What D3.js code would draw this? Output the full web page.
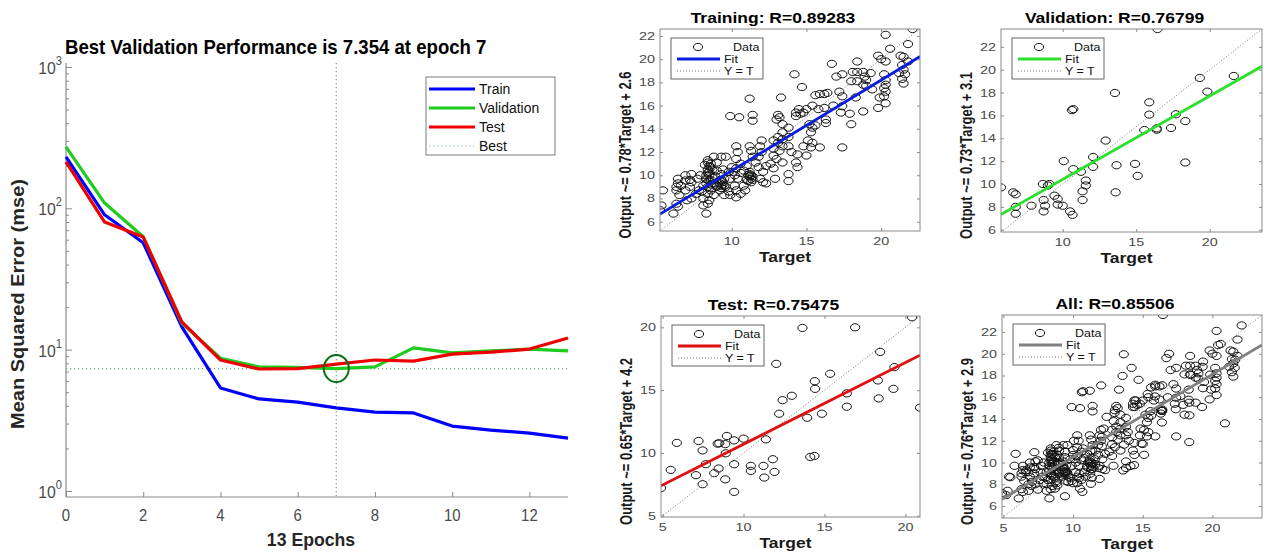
<!DOCTYPE html>
<html>
<head>
<meta charset="utf-8">
<script src="https://cdn.jsdelivr.net/npm/d3@7"></script>
<style>
  html, body { margin: 0; padding: 0; background: #ffffff; }
  svg { display: block; font-family: "Liberation Sans", Arial, Helvetica, sans-serif; }
</style>
</head>
<body>
<svg id="fig" width="1272" height="554"></svg>
<script>
// ---------- Training performance (mean squared error per epoch) ----------
const epochs = d3.range(0, 14);
const trainMSE      = [231, 90, 57, 14.5, 5.36, 4.48, 4.26, 3.87, 3.62, 3.57, 2.88, 2.70, 2.57, 2.37];
const validationMSE = [272, 109, 63, 15.4, 8.7, 7.55, 7.5, 7.354, 7.55, 10.3, 9.5, 9.8, 10.1, 9.8];
const testMSE       = [213, 80, 62.6, 15.7, 8.45, 7.3, 7.35, 7.9, 8.45, 8.3, 9.3, 9.6, 10.1, 12.1];
const bestEpoch = 7;
const bestMSE = 7.354;
const epochTicks = [0, 2, 4, 6, 8, 10, 12];
const mseDecades = [0, 1, 2, 3];
const perfSeries = ["Train", "Validation", "Test", "Best"];

// ---------- Regression: targets vs network outputs ----------
const trainTarget = [22.1,20.3,20.6,21.8,19.8,20.0,20.3,21.3,21.8,21.4,21.5,21.2,21.6,21.4,21.5,20.2,20.3,20.3,20.2,20.3,
  20.3,19.9,19.8,19.4,18.9,19.3,18.8,18.4,18.1,18.4,19.0,18.4,18.0,18.8,19.0,18.3,18.8,18.0,17.4,16.7,
  17.0,17.4,17.2,17.4,16.8,17.3,17.9,17.4,16.2,15.9,16.2,16.3,16.3,15.8,15.4,15.0,14.5,14.2,14.7,14.3,
  14.3,14.8,15.2,15.3,15.4,15.6,15.1,15.4,15.9,15.3,14.8,15.0,14.4,14.0,14.3,14.4,13.8,13.8,13.3,13.1,
  13.0,13.2,13.4,13.8,13.4,13.1,13.4,13.8,12.8,13.1,13.4,13.8,12.8,13.2,12.8,13.0,13.4,12.8,12.9,12.3,
  12.1,12.1,12.3,11.9,12.0,11.9,12.0,11.8,11.6,11.8,11.2,11.4,11.4,9.9,10.5,10.3,10.4,11.2,11.3,11.4,
  10.3,10.6,11.0,11.2,11.2,11.3,11.0,10.8,10.3,10.0,9.8,10.1,9.9,10.4,10.2,10.8,10.9,10.6,10.3,10.3,
  9.8,9.5,9.3,9.4,9.2,9.5,9.3,9.4,9.0,8.6,8.5,8.4,8.3,8.5,8.3,8.8,9.0,8.6,8.4,8.8,
  8.5,8.4,8.3,9.0,8.1,8.0,8.1,7.9,7.7,7.3,7.3,7.2,6.9,6.9,6.4,6.4,6.3,6.5,6.3,7.0,
  6.4,6.1,5.4,5.3,5.2,8.5,9.0,8.8,9.3,8.2,8.4,8.9,9.2,9.6,9.9,8.1,7.8,6.9,7.6,8.4,
  8.6,8.5,8.7,8.4,8.6,11.2,11.3,11.1,9.4,9.3,11.4,7.3,6.3,12.6,14.6,15.6,16.4,21.5,20.2,9.6,
  8.4,8.6,8.5,8.7,8.3,9.2,9.5,9.3,11.3,11.1,11.4,10.2,10.6,7.2,6.6];
const trainOutput = [22.6,22.1,20.9,21.3,20.3,20.0,19.8,20.3,19.8,19.5,19.1,18.8,18.7,18.3,17.9,18.7,18.2,17.8,17.5,17.2,
  16.2,16.7,15.8,17.4,18.5,18.8,18.9,19.8,18.9,18.9,18.2,18.1,18.1,17.8,17.7,16.7,15.5,14.4,12.4,19.6,
  18.5,18.7,17.2,16.8,16.0,15.4,15.3,15.95,17.0,17.0,15.8,14.8,14.5,15.7,16.0,15.7,15.7,18.7,17.6,15.4,
  15.1,15.4,14.4,13.7,14.1,14.3,13.0,12.8,12.4,12.4,12.5,11.7,11.8,12.0,11.1,10.7,10.1,9.5,16.7,15.2,
  14.8,15.0,14.4,14.1,13.7,13.3,13.1,13.3,13.0,12.8,12.5,12.5,12.3,12.1,11.7,11.4,11.1,10.6,9.7,10.8,
  10.3,9.4,9.3,9.7,13.0,12.5,12.0,11.6,11.1,10.7,16.6,15.2,14.7,15.1,15.0,12.5,12.0,12.5,12.1,11.6,
  11.4,11.0,10.8,10.3,9.9,9.4,9.6,10.4,10.6,10.7,10.3,10.3,9.7,9.7,9.1,9.1,8.7,8.4,8.1,8.7,
  8.6,8.3,9.1,9.4,9.55,9.7,10.1,10.5,10.4,10.7,10.3,11.1,10.0,9.55,9.3,9.3,9.0,8.7,8.4,8.3,
  7.85,7.55,6.7,9.1,9.1,8.6,8.0,10.0,9.7,10.1,9.4,9.0,9.55,8.7,9.7,9.3,8.7,8.3,7.55,7.85,
  7.3,6.7,8.7,7.4,7.0,10.8,11.1,11.6,11.6,10.9,10.5,9.9,8.7,9.0,8.3,7.4,8.7,10.0,8.4,11.3,
  11.0,10.0,9.8,9.0,9.2,10.1,9.7,10.0,9.2,8.9,9.6,8.0,9.0,11.0,15.3,16.9,17.1,20.2,16.8,11.6,
  10.2,9.6,8.9,10.5,9.7,9.3,9.1,9.6,10.0,9.5,9.9,10.0,10.2,9.6,9.1];

const valTarget = [16.45,5.8,6.63,6.8,6.8,6.8,7.87,8.65,8.99,9.1,8.7,8.8,8.7,9.44,9.66,9.66,10.0,10.5,10.67,10.07,
  10.63,10.72,10.72,11.24,11.57,11.57,11.35,11.35,12.07,12.07,12.92,13.55,13.66,13.6,14.92,15.1,15.55,15.89,15.89,16.4,
  16.4,17.37,17.7,18.34,18.34,19.33,19.84,21.64];
const valOutput = [23.56,9.7,9.27,9.1,8.0,7.4,8.1,10.0,9.87,10.0,8.6,8.1,7.6,8.98,8.7,8.2,8.1,7.6,7.3,12.0,
  16.46,16.55,11.3,11.07,10.3,9.87,9.36,8.6,12.36,11.5,13.8,17.96,11.64,9.27,11.76,10.71,14.72,17.15,16.07,14.87,
  14.75,14.9,16.1,15.5,11.88,19.28,18.08,19.45];

const testTarget = [4.9,5.5,5.88,7.06,7.22,7.47,7.47,7.67,8.19,8.4,8.5,8.46,8.87,8.9,8.97,8.87,9.42,9.42,9.42,10.0,
  10.45,10.45,11.23,11.28,11.38,11.81,11.91,12.02,12.2,12.41,12.98,13.64,13.93,14.12,14.38,14.4,14.42,14.84,15.35,16.38,
  16.38,16.89,18.44,18.3,18.35,19.32,19.26,20.41,20.9];
const testOutput = [7.2,8.65,10.8,8.23,10.95,10.2,7.51,9.1,8.39,10.74,10.77,8.76,10.7,9.97,11.35,7.9,11.0,9.1,6.9,11.14,
  8.97,8.57,8.97,8.04,11.08,9.5,8.49,17.09,13.12,14.2,14.55,19.95,12.8,9.68,9.76,15.71,15.1,13.12,16.3,13.68,
  14.74,20.0,18.04,15.77,14.34,16.83,15.1,20.8,13.6];

const regressionNames = ["Training", "Validation", "Test", "All"];
const regressionR = ["0.89283", "0.76799", "0.75475", "0.85506"];
const fitSlope = [0.78, 0.73, 0.65, 0.76];
const fitIntercept = [2.6, 3.1, 4.2, 2.9];
const targetTicks = [[10, 15, 20], [10, 15, 20], [5, 10, 15, 20], [5, 10, 15, 20]];
const outputTicks = [[6, 8, 10, 12, 14, 16, 18, 20, 22], [6, 8, 10, 12, 14, 16, 18, 20, 22],
                     [5, 10, 15, 20], [6, 8, 10, 12, 14, 16, 18, 20, 22]];
const legendLabels = ["Data", "Fit", "Y = T"];

// ---------- styling ----------
const perfColors = ["#0000ff", "#1ecb1e", "#ee0000"];
const fitColors = ["#0a1ee0", "#2ee02e", "#e01010", "#808080"];
const axisGrey = "#8a8a8a";
const tickText = "#4a4a4a";

const svg = d3.select("#fig");

// text helper: glyphs are widened/narrowed by sx along the screen x axis
function label(g, x, y, str, o) {
  const tf = `translate(${x},${y}) scale(${o.sx || 1},1)` + (o.rotate ? ` rotate(${o.rotate})` : "");
  return g.append("text")
    .attr("transform", tf)
    .attr("text-anchor", o.anchor || "middle")
    .attr("dy", o.dy || 0)
    .attr("fill", o.color || "#000")
    .style("font-size", o.size + "px")
    .style("font-weight", o.bold ? "bold" : "normal")
    .text(str);
}

// =================== performance plot ===================
(function drawPerformance() {
  const sx = 0.93;
  const L = 66, R = 568, T = 63, B = 497;
  const x = d3.scaleLinear().domain([0, 13]).range([L, R]);
  const y = d3.scaleLog().domain([0.907, 1067]).range([B, T]);
  const g = svg.append("g");

  // axis lines (box off)
  g.append("line").attr("x1", L).attr("x2", L).attr("y1", T).attr("y2", B).attr("stroke", axisGrey).attr("stroke-width", 1.2);
  g.append("line").attr("x1", L).attr("x2", R).attr("y1", B).attr("y2", B).attr("stroke", axisGrey).attr("stroke-width", 1.2);

  // epoch ticks (inward)
  const xa = d3.axisBottom(x).tickValues(epochTicks).tickSizeInner(-5).tickSizeOuter(0).tickFormat("");
  const gx = g.append("g").attr("transform", `translate(0,${B})`).call(xa);
  gx.select(".domain").remove();
  gx.selectAll("line").attr("stroke", axisGrey);
  epochTicks.forEach(v => label(g, x(v), 521, String(v), { size: 16, sx, color: tickText }));

  // log ticks: decades and minor ticks
  const majors = mseDecades.map(k => Math.pow(10, k));
  const minors = [];
  mseDecades.slice(0, 3).forEach(k => d3.range(2, 10).forEach(m => minors.push(m * Math.pow(10, k))));
  const ya = d3.axisLeft(y).tickValues(majors).tickSizeInner(-6).tickSizeOuter(0).tickFormat("");
  const gy = g.append("g").attr("transform", `translate(${L},0)`).call(ya);
  gy.select(".domain").remove();
  gy.selectAll("line").attr("stroke", axisGrey);
  const ym = d3.axisLeft(y).tickValues(minors).tickSizeInner(-3).tickSizeOuter(0).tickFormat("");
  const gym = g.append("g").attr("transform", `translate(${L},0)`).call(ym);
  gym.select(".domain").remove();
  gym.selectAll("line").attr("stroke", axisGrey);
  mseDecades.forEach(k => {
    const t = label(g, L - 4, y(Math.pow(10, k)) + 7, "10", { size: 17, sx, anchor: "end", color: tickText });
    t.append("tspan").attr("dy", -9).style("font-size", "12px").text(String(k));
  });

  // best epoch guides
  g.append("line").attr("x1", x(bestEpoch)).attr("x2", x(bestEpoch)).attr("y1", T).attr("y2", B)
    .attr("stroke", "#6fa67c").attr("stroke-width", 1.2).attr("stroke-dasharray", "1.2,2.8");
  g.append("line").attr("x1", L).attr("x2", R).attr("y1", y(bestMSE)).attr("y2", y(bestMSE))
    .attr("stroke", "#6fa67c").attr("stroke-width", 1.2).attr("stroke-dasharray", "1.2,2.8");

  const line = d3.line().x((d, i) => x(epochs[i])).y(d => y(d));
  [trainMSE, validationMSE, testMSE].forEach((s, i) => {
    g.append("path").datum(s).attr("d", line).attr("fill", "none")
      .attr("stroke", perfColors[i]).attr("stroke-width", 3.2).attr("stroke-linejoin", "round");
  });

  // best validation marker
  g.append("ellipse").attr("cx", x(bestEpoch)).attr("cy", y(bestMSE)).attr("rx", 12.5).attr("ry", 13.5)
    .attr("fill", "none").attr("stroke", "#0b6e12").attr("stroke-width", 2);

  // legend
  const lg = g.append("g");
  lg.append("rect").attr("x", 426).attr("y", 77).attr("width", 129).attr("height", 78)
    .attr("fill", "#fff").attr("stroke", "#7a7a7a").attr("stroke-width", 1);
  perfSeries.forEach((name, i) => {
    const yy = 89 + i * 19;
    const ln = lg.append("line").attr("x1", 429).attr("x2", 475).attr("y1", yy).attr("y2", yy);
    if (i < 3) ln.attr("stroke", perfColors[i]).attr("stroke-width", 3.2);
    else ln.attr("stroke", "#8cbc98").attr("stroke-width", 1.2).attr("stroke-dasharray", "1.2,2.8");
    label(lg, 479, yy + 5, name, { size: 15, sx, anchor: "start", color: "#111" });
  });

  // titles
  label(g, 65, 54, "Best Validation Performance is " + bestMSE + " at epoch " + bestEpoch,
    { size: 20, sx, bold: true, anchor: "start", color: "#000" });
  label(g, 311, 546, (epochs.length - 1) + " Epochs", { size: 19, sx, bold: true, color: "#262626" });
  label(g, 24, 304, "Mean Squared Error  (mse)", { size: 20, sx, bold: true, rotate: -90, color: "#262626" });
})();

// =================== regression plots ===================
const regressionSets = [
  [trainTarget, trainOutput],
  [valTarget, valOutput],
  [testTarget, testOutput],
  [trainTarget.concat(valTarget, testTarget), trainOutput.concat(valOutput, testOutput)]
];
const boxes = [
  { x0: 660, y0: 29, x1: 920, y1: 231 },
  { x0: 1001, y0: 29, x1: 1262, y1: 232 },
  { x0: 661, y0: 316, x1: 920, y1: 517 },
  { x0: 1002, y0: 315, x1: 1262, y1: 518 }
];

regressionSets.forEach(([tg, out], i) => {
  const sx = 1.25;
  const b = boxes[i];
  const lim = d3.extent(tg.concat(out));
  const x = d3.scaleLinear().domain(lim).range([b.x0, b.x1]);
  const y = d3.scaleLinear().domain(lim).range([b.y1, b.y0]);
  const g = svg.append("g");

  const clipId = "clip" + i;
  g.append("clipPath").attr("id", clipId).append("rect")
    .attr("x", b.x0).attr("y", b.y0).attr("width", b.x1 - b.x0).attr("height", b.y1 - b.y0);
  const plot = g.append("g").attr("clip-path", `url(#${clipId})`);

  // data points (open circle markers, widened like the rest of the panel)
  plot.selectAll("ellipse").data(d3.zip(tg, out)).join("ellipse")
    .attr("cx", d => x(d[0])).attr("cy", d => y(d[1])).attr("rx", 4.6).attr("ry", 3.6)
    .attr("fill", "none").attr("stroke", "#111").attr("stroke-width", 1);

  // Y = T
  plot.append("line").attr("x1", x(lim[0])).attr("y1", y(lim[0])).attr("x2", x(lim[1])).attr("y2", y(lim[1]))
    .attr("stroke", "#666").attr("stroke-width", 0.9).attr("stroke-dasharray", "1,2");
  // linear fit from the stated coefficients
  const fit = t => fitSlope[i] * t + fitIntercept[i];
  plot.append("line").attr("x1", x(lim[0])).attr("y1", y(fit(lim[0]))).attr("x2", x(lim[1])).attr("y2", y(fit(lim[1])))
    .attr("stroke", fitColors[i]).attr("stroke-width", 2.8);

  // box with inward ticks on every side
  g.append("rect").attr("x", b.x0).attr("y", b.y0).attr("width", b.x1 - b.x0).attr("height", b.y1 - b.y0)
    .attr("fill", "none").attr("stroke", axisGrey).attr("stroke-width", 1);
  const sides = [
    [d3.axisBottom(x).tickValues(targetTicks[i]), `translate(0,${b.y1})`],
    [d3.axisTop(x).tickValues(targetTicks[i]), `translate(0,${b.y0})`],
    [d3.axisLeft(y).tickValues(outputTicks[i]), `translate(${b.x0},0)`],
    [d3.axisRight(y).tickValues(outputTicks[i]), `translate(${b.x1},0)`]
  ];
  sides.forEach(([ax, tr]) => {
    const a = g.append("g").attr("transform", tr).call(ax.tickSizeInner(-3).tickSizeOuter(0).tickFormat(""));
    a.select(".domain").remove();
    a.selectAll("line").attr("stroke", axisGrey);
  });
  targetTicks[i].forEach(v => label(g, x(v), b.y1 + 14, String(v), { size: 11.5, sx, color: tickText }));
  outputTicks[i].forEach(v => label(g, b.x0 - 5, y(v) + 4, String(v), { size: 11.5, sx, anchor: "end", color: tickText }));

  // titles and axis labels
  const cx = (b.x0 + b.x1) / 2;
  label(g, cx - 17, b.y0 - 6.5, regressionNames[i] + ": R=" + regressionR[i], { size: 14, sx, bold: true });
  label(g, cx - 5, b.y1 + 31, "Target", { size: 14, sx, bold: true, color: "#1a1a1a" });
  label(g, b.x0 - 29, (b.y0 + b.y1) / 2 + 25,
    "Output ~= " + fitSlope[i] + "*Target + " + fitIntercept[i],
    { size: 13, sx, bold: true, rotate: -90, color: "#1a1a1a" });

  // legend
  const lx = b.x0 + 11, ly = b.y0 + 9;
  const lg = g.append("g");
  lg.append("rect").attr("x", lx).attr("y", ly).attr("width", 92).attr("height", 41)
    .attr("fill", "#fff").attr("stroke", "#555").attr("stroke-width", 0.9);
  lg.append("ellipse").attr("cx", lx + 27).attr("cy", ly + 9).attr("rx", 4.6).attr("ry", 3.6)
    .attr("fill", "none").attr("stroke", "#111").attr("stroke-width", 1);
  lg.append("line").attr("x1", lx + 6).attr("x2", lx + 49).attr("y1", ly + 21).attr("y2", ly + 21)
    .attr("stroke", fitColors[i]).attr("stroke-width", 2.8);
  lg.append("line").attr("x1", lx + 6).attr("x2", lx + 49).attr("y1", ly + 33).attr("y2", ly + 33)
    .attr("stroke", "#666").attr("stroke-width", 0.9).attr("stroke-dasharray", "1,2");
  label(lg, lx + 62, ly + 12.5, legendLabels[0], { size: 10, sx, anchor: "start", color: "#111" });
  label(lg, lx + 53, ly + 24.5, legendLabels[1], { size: 10, sx, anchor: "start", color: "#111" });
  label(lg, lx + 53, ly + 36.5, legendLabels[2], { size: 10, sx, anchor: "start", color: "#111" });
});
</script>
</body>
</html>
